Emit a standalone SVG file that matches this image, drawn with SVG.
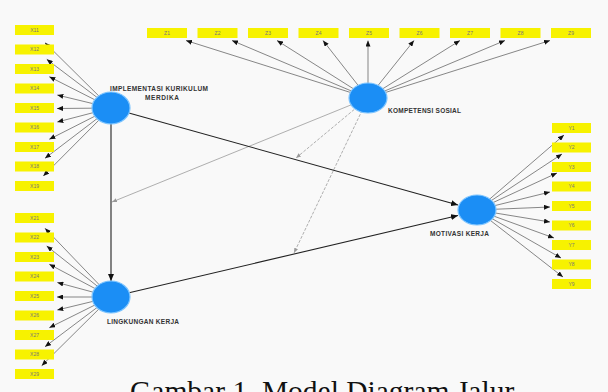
<svg xmlns="http://www.w3.org/2000/svg" width="608" height="392" viewBox="0 0 608 392">
<style>
.ind{fill:#f7f200;}
.it{font-family:"Liberation Sans",Arial,sans-serif;font-size:5px;fill:#777;text-anchor:middle;}
.lv{fill:#1b8ef5;stroke:#7cc4ff;stroke-width:1.2;}
.lbl{font-family:"Liberation Sans",Arial,sans-serif;font-size:6.5px;font-weight:bold;fill:#333;}
.il{stroke:#555;stroke-width:0.7;fill:none;marker-end:url(#ah);}
.sl{stroke:#222;stroke-width:1.1;fill:none;marker-end:url(#ahb);}
.ml{stroke:#9a9a9a;stroke-width:0.8;fill:none;marker-end:url(#ahg);}
.md{stroke-dasharray:3 1.5;}
</style>
<defs>
<marker id="ah" markerUnits="userSpaceOnUse" markerWidth="6" markerHeight="5" refX="6" refY="2.5" orient="auto"><path d="M0,0 L6,2.5 L0,5 z" fill="#111"/></marker>
<marker id="ahb" markerUnits="userSpaceOnUse" markerWidth="7" markerHeight="6" refX="7" refY="3" orient="auto"><path d="M0,0 L7,3 L0,6 z" fill="#111"/></marker>
<marker id="ahg" markerUnits="userSpaceOnUse" markerWidth="5" markerHeight="4" refX="5" refY="2" orient="auto"><path d="M0,0 L5,2 L0,4 z" fill="#999"/></marker>
</defs>
<rect width="608" height="392" fill="#f9f9f9"/>

<g id="connectors">
<path class="il" d="M111,108 L45,42.7"/>
<path class="il" d="M111,108 L46.7,59.3"/>
<path class="il" d="M111,108 L49.3,76.7"/>
<path class="il" d="M111,108 L57.3,95"/>
<path class="il" d="M111,108 L57,108.5"/>
<path class="il" d="M111,108 L57.3,122"/>
<path class="il" d="M111,108 L49.3,139.3"/>
<path class="il" d="M111,108 L45,158.3"/>
<path class="il" d="M111,108 L43.3,176"/>
<path class="il" d="M111,297 L45,228.3"/>
<path class="il" d="M111,297 L46.7,246"/>
<path class="il" d="M111,297 L49.3,264.3"/>
<path class="il" d="M111,297 L57.3,282.5"/>
<path class="il" d="M111,297 L57,297"/>
<path class="il" d="M111,297 L57.3,310"/>
<path class="il" d="M111,297 L49.3,327.7"/>
<path class="il" d="M111,297 L45,346.7"/>
<path class="il" d="M111,297 L41.7,365.7"/>
<path class="il" d="M368,98 L186,40.5"/>
<path class="il" d="M368,98 L232,40.5"/>
<path class="il" d="M368,98 L277,40.5"/>
<path class="il" d="M368,98 L323,40.5"/>
<path class="il" d="M368,98 L368,40.5"/>
<path class="il" d="M368,98 L414,40.5"/>
<path class="il" d="M368,98 L460,40.5"/>
<path class="il" d="M368,98 L505,40.5"/>
<path class="il" d="M368,98 L550,40.5"/>
<path class="il" d="M477,210 L564,135"/>
<path class="il" d="M477,210 L562,154"/>
<path class="il" d="M477,210 L557,173"/>
<path class="il" d="M477,210 L550,192"/>
<path class="il" d="M477,210 L550,207"/>
<path class="il" d="M477,210 L550,222"/>
<path class="il" d="M477,210 L554,238"/>
<path class="il" d="M477,210 L561,258"/>
<path class="il" d="M477,210 L563,277"/>
<path class="ml" d="M368,98 L112,202"/>
<path class="ml md" d="M368,98 L296,158"/>
<path class="ml md" d="M368,98 L294,253"/>
<path class="sl" d="M111,124 L111,281"/>
<path class="sl" d="M111,108 L458,205"/>
<path class="sl" d="M111,297 L458,215.5"/>
</g>

<g id="ind-X1">
<rect class="ind" x="15" y="25" width="39" height="10"/><text class="it" x="34.5" y="31.8">X11</text>
<rect class="ind" x="15" y="44.5" width="39" height="10"/><text class="it" x="34.5" y="51.3">X12</text>
<rect class="ind" x="15" y="64" width="39" height="10"/><text class="it" x="34.5" y="70.8">X13</text>
<rect class="ind" x="15" y="83.5" width="39" height="10"/><text class="it" x="34.5" y="90.3">X14</text>
<rect class="ind" x="15" y="103" width="39" height="10"/><text class="it" x="34.5" y="109.8">X15</text>
<rect class="ind" x="15" y="122.5" width="39" height="10"/><text class="it" x="34.5" y="129.3">X16</text>
<rect class="ind" x="15" y="142" width="39" height="10"/><text class="it" x="34.5" y="148.8">X17</text>
<rect class="ind" x="15" y="161.5" width="39" height="10"/><text class="it" x="34.5" y="168.3">X18</text>
<rect class="ind" x="15" y="181" width="39" height="10"/><text class="it" x="34.5" y="187.8">X19</text>
</g>
<g id="ind-X2">
<rect class="ind" x="15" y="213" width="39" height="10"/><text class="it" x="34.5" y="219.8">X21</text>
<rect class="ind" x="15" y="232.5" width="39" height="10"/><text class="it" x="34.5" y="239.3">X22</text>
<rect class="ind" x="15" y="252" width="39" height="10"/><text class="it" x="34.5" y="258.8">X23</text>
<rect class="ind" x="15" y="271.5" width="39" height="10"/><text class="it" x="34.5" y="278.3">X24</text>
<rect class="ind" x="15" y="291" width="39" height="10"/><text class="it" x="34.5" y="297.8">X25</text>
<rect class="ind" x="15" y="310.5" width="39" height="10"/><text class="it" x="34.5" y="317.3">X26</text>
<rect class="ind" x="15" y="330" width="39" height="10"/><text class="it" x="34.5" y="336.8">X27</text>
<rect class="ind" x="15" y="349.5" width="39" height="10"/><text class="it" x="34.5" y="356.3">X28</text>
<rect class="ind" x="15" y="369" width="39" height="10"/><text class="it" x="34.5" y="375.8">X29</text>
</g>
<g id="ind-Z">
<rect class="ind" x="147" y="28" width="40" height="10"/><text class="it" x="167" y="34.8">Z1</text>
<rect class="ind" x="197.5" y="28" width="40" height="10"/><text class="it" x="217.5" y="34.8">Z2</text>
<rect class="ind" x="248" y="28" width="40" height="10"/><text class="it" x="268" y="34.8">Z3</text>
<rect class="ind" x="298.5" y="28" width="40" height="10"/><text class="it" x="318.5" y="34.8">Z4</text>
<rect class="ind" x="349" y="28" width="40" height="10"/><text class="it" x="369" y="34.8">Z5</text>
<rect class="ind" x="399.5" y="28" width="40" height="10"/><text class="it" x="419.5" y="34.8">Z6</text>
<rect class="ind" x="450" y="28" width="40" height="10"/><text class="it" x="470" y="34.8">Z7</text>
<rect class="ind" x="500.5" y="28" width="40" height="10"/><text class="it" x="520.5" y="34.8">Z8</text>
<rect class="ind" x="551" y="28" width="40" height="10"/><text class="it" x="571" y="34.8">Z9</text>
</g>
<g id="ind-Y">
<rect class="ind" x="552" y="123" width="39" height="10"/><text class="it" x="571.5" y="129.8">Y1</text>
<rect class="ind" x="552" y="142.5" width="39" height="10"/><text class="it" x="571.5" y="149.3">Y2</text>
<rect class="ind" x="552" y="162" width="39" height="10"/><text class="it" x="571.5" y="168.8">Y3</text>
<rect class="ind" x="552" y="181.5" width="39" height="10"/><text class="it" x="571.5" y="188.3">Y4</text>
<rect class="ind" x="552" y="201" width="39" height="10"/><text class="it" x="571.5" y="207.8">Y5</text>
<rect class="ind" x="552" y="220.5" width="39" height="10"/><text class="it" x="571.5" y="227.3">Y6</text>
<rect class="ind" x="552" y="240" width="39" height="10"/><text class="it" x="571.5" y="246.8">Y7</text>
<rect class="ind" x="552" y="259.5" width="39" height="10"/><text class="it" x="571.5" y="266.3">Y8</text>
<rect class="ind" x="552" y="279" width="39" height="10"/><text class="it" x="571.5" y="285.8">Y9</text>
</g>

<g id="node-ikm">
<ellipse class="lv" cx="111" cy="108" rx="19" ry="16"/>
<text class="lbl" x="110" y="91" textLength="98" lengthAdjust="spacing">IMPLEMENTASI KURIKULUM</text>
<text class="lbl" x="145" y="100" textLength="34" lengthAdjust="spacing">MERDIKA</text>
</g>
<g id="node-lk">
<ellipse class="lv" cx="111" cy="297" rx="19" ry="16"/>
<text class="lbl" x="107" y="324" textLength="72" lengthAdjust="spacing">LINGKUNGAN KERJA</text>
</g>
<g id="node-ks">
<ellipse class="lv" cx="368" cy="98" rx="19" ry="15"/>
<text class="lbl" x="388" y="113" textLength="73" lengthAdjust="spacing">KOMPETENSI SOSIAL</text>
</g>
<g id="node-mk">
<ellipse class="lv" cx="477" cy="210" rx="19" ry="15"/>
<text class="lbl" x="430" y="236" textLength="59" lengthAdjust="spacing">MOTIVASI KERJA</text>
</g>

<text x="130" y="401" font-family="'Liberation Serif','Times New Roman',serif" font-size="29.5" fill="#111">Gambar 1. Model Diagram Jalur</text>
</svg>
